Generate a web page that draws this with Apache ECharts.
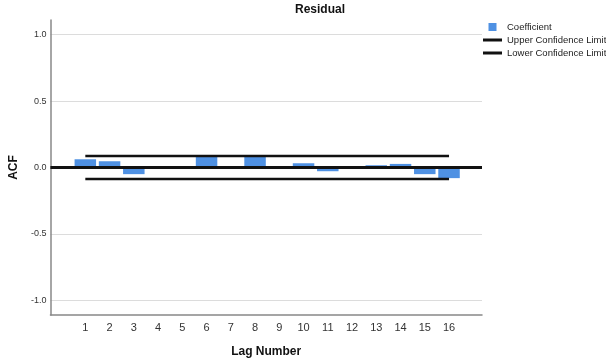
<!DOCTYPE html>
<html>
<head>
<meta charset="utf-8">
<script src="https://cdn.jsdelivr.net/npm/echarts@6/dist/echarts.min.js"></script>
<style>
  html, body { margin: 0; padding: 0; background: #fff; }
  #chart { width: 606px; height: 363px; }
</style>
</head>
<body>
<div id="chart"></div>
<script>
// Autocorrelation of the residual series, lags 1..16
const lags = [1, 2, 3, 4, 5, 6, 7, 8, 9, 10, 11, 12, 13, 14, 15, 16];
const coefficients = [0.062, 0.047, -0.050, 0.003, -0.002, 0.079, -0.006, 0.079,
                      0.002, 0.032, -0.028, -0.002, 0.017, 0.027, -0.050, -0.080];
const upperLimit = 0.087;
const lowerLimit = -0.087;
const yTicks = [-1.0, -0.5, 0.0, 0.5, 1.0];

const font = '"Liberation Sans", Arial, sans-serif';

const barData = lags.map((lag, i) => [lag, coefficients[i]]);
const firstLag = lags[0];
const lastLag = lags[lags.length - 1];

const chart = echarts.init(document.getElementById('chart'), null, { renderer: 'canvas' });

chart.setOption({
  animation: false,
  backgroundColor: '#ffffff',
  textStyle: { fontFamily: font },
  title: {
    text: 'Residual',
    left: 295,
    top: 4,
    padding: 0,
    textStyle: { fontFamily: font, fontSize: 12, fontWeight: 'bold', color: '#111' }
  },
  legend: {
    orient: 'vertical',
    left: 483,
    top: 22,
    padding: 0,
    itemWidth: 19,
    itemHeight: 8,
    itemGap: 3,
    itemTextGap: 3,
    textStyle: { fontFamily: font, fontSize: 9.5, color: '#222' },
    data: [
      { name: 'Coefficient', icon: 'path://M0,0H1V1H0Z' },
      { name: 'Upper Confidence Limit', icon: 'path://M0,0H19V3H0Z' },
      { name: 'Lower Confidence Limit', icon: 'path://M0,0H19V3H0Z' }
    ]
  },
  grid: { left: 50, right: 124, top: 20, bottom: 46, containLabel: false },
  xAxis: {
    type: 'value',
    min: -0.44,
    max: 17.36,
    name: 'Lag Number',
    nameLocation: 'middle',
    nameGap: 31,
    nameTextStyle: { fontFamily: font, fontSize: 12, fontWeight: 'bold', color: '#111' },
    axisLine: { show: true, onZero: false, lineStyle: { color: '#888', width: 1.5 } },
    axisTick: { show: false, customValues: lags },
    splitLine: { show: false },
    axisLabel: {
      customValues: lags,
      margin: 7,
      fontSize: 11,
      color: '#333',
      formatter: v => String(v)
    }
  },
  yAxis: {
    type: 'value',
    min: -1.11,
    max: 1.11,
    name: 'ACF',
    nameLocation: 'middle',
    nameGap: 24,
    nameTextStyle: { fontFamily: font, fontSize: 12, fontWeight: 'bold', color: '#111' },
    axisLine: { show: true, onZero: false, lineStyle: { color: '#888', width: 1.5 } },
    axisTick: { show: false, customValues: yTicks },
    splitLine: { show: true, lineStyle: { color: '#dcdcdc', width: 1 } },
    axisLabel: {
      customValues: yTicks,
      margin: 4,
      fontSize: 9,
      color: '#333',
      formatter: v => v.toFixed(1)
    }
  },
  series: [
    {
      name: 'Coefficient',
      type: 'bar',
      data: barData,
      barWidth: 21.5,
      itemStyle: { color: '#4f91e3' },
      markLine: {
        silent: true,
        symbol: 'none',
        label: { show: false },
        lineStyle: { color: '#111', width: 3, type: 'solid' },
        data: [{ yAxis: 0 }]
      },
      z: 2
    },
    {
      name: 'Upper Confidence Limit',
      type: 'line',
      data: [[firstLag, upperLimit], [lastLag, upperLimit]],
      symbol: 'none',
      lineStyle: { color: '#111', width: 2.5 },
      itemStyle: { color: '#111' },
      z: 3
    },
    {
      name: 'Lower Confidence Limit',
      type: 'line',
      data: [[firstLag, lowerLimit], [lastLag, lowerLimit]],
      symbol: 'none',
      lineStyle: { color: '#111', width: 2.5 },
      itemStyle: { color: '#111' },
      z: 3
    }
  ]
});
</script>
</body>
</html>
